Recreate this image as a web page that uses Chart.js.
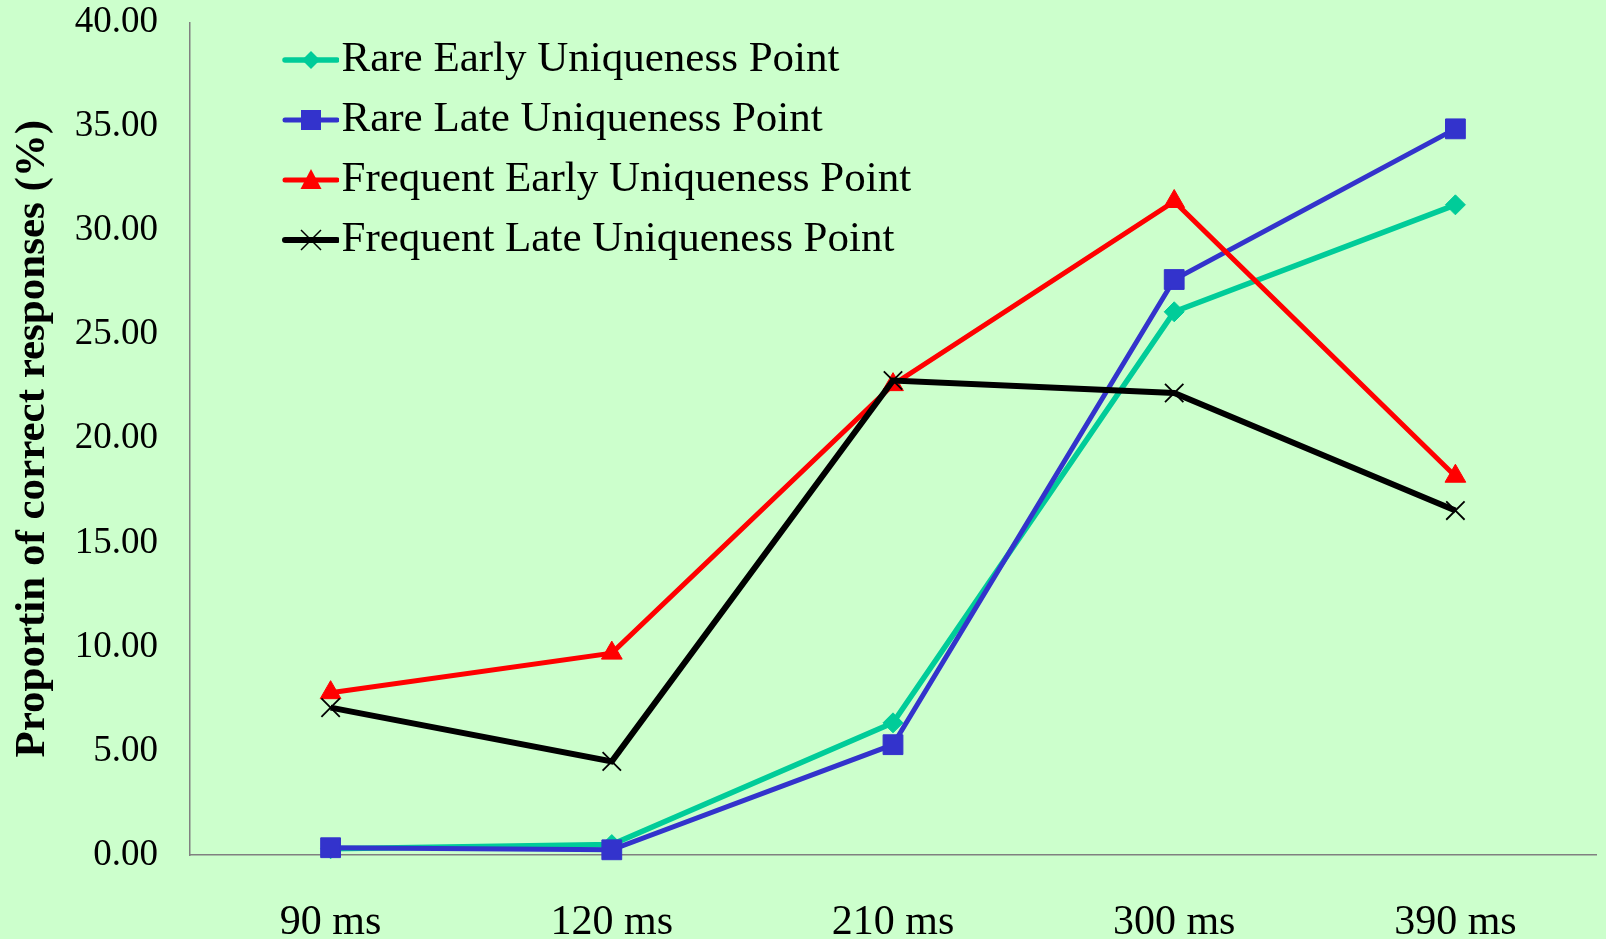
<!DOCTYPE html>
<html>
<head>
<meta charset="utf-8">
<script src="https://cdn.jsdelivr.net/npm/chart.js@4"></script>
<style>
  html, body { margin: 0; padding: 0; background: #CCFFCC; }
  #wrap { width: 1606px; height: 939px; position: relative; }
</style>
</head>
<body>
<div id="wrap"><canvas id="c"></canvas></div>
<script>
const categories = ['90 ms', '120 ms', '210 ms', '300 ms', '390 ms'];
const seriesNames = ['Rare Early Uniqueness Point', 'Rare Late Uniqueness Point', 'Frequent Early Uniqueness Point', 'Frequent Late Uniqueness Point'];
const rareEarly = [0.3, 0.5, 6.35, 26.1, 31.24];
const rareLate = [0.35, 0.25, 5.3, 27.65, 34.89];
const freqEarly = [7.8, 9.7, 22.6, 31.4, 18.2];
const freqLate = [7.08, 4.5, 22.8, 22.2, 16.55];
const yTickValues = [0, 5, 10, 15, 20, 25, 30, 35, 40];

const FONT = "'Liberation Serif', 'Times New Roman', serif";
const colors = ['#00CC99', '#3333CC', '#FF0000', '#000000'];
const styles = ['rectRot', 'rect', 'triangle', 'crossRot'];
const radii = [10, 14, 12, 13];
const widths = [5.5, 5, 5, 6];

function makeLegendIcon(i) {
  const cv = document.createElement('canvas');
  cv.width = 151; cv.height = 26;
  const ctx = cv.getContext('2d');
  const cy = 13, cx = 123;
  ctx.strokeStyle = colors[i];
  ctx.lineWidth = widths[i];
  ctx.lineCap = 'round';
  ctx.beginPath(); ctx.moveTo(97, cy); ctx.lineTo(149, cy); ctx.stroke();
  ctx.fillStyle = colors[i];
  ctx.lineCap = 'butt';
  if (i === 0) {
    ctx.beginPath(); ctx.moveTo(cx, cy - 9); ctx.lineTo(cx + 9, cy); ctx.lineTo(cx, cy + 9); ctx.lineTo(cx - 9, cy); ctx.closePath(); ctx.fill();
  } else if (i === 1) {
    ctx.fillRect(cx - 10, cy - 10, 20, 20);
  } else if (i === 2) {
    ctx.beginPath(); ctx.moveTo(cx, cy - 11); ctx.lineTo(cx + 10.5, cy + 9); ctx.lineTo(cx - 10.5, cy + 9); ctx.closePath(); ctx.fill();
  } else {
    ctx.lineWidth = 1.5;
    ctx.beginPath(); ctx.moveTo(cx - 10, cy - 10); ctx.lineTo(cx + 10, cy + 10); ctx.moveTo(cx + 10, cy - 10); ctx.lineTo(cx - 10, cy + 10); ctx.stroke();
  }
  return cv;
}
const legendIcons = [0, 1, 2, 3].map(makeLegendIcon);

const allData = [rareEarly, rareLate, freqEarly, freqLate];
const datasets = allData.map((d, i) => ({
  label: seriesNames[i],
  data: d,
  borderColor: colors[i],
  backgroundColor: colors[i],
  borderWidth: widths[i],
  pointStyle: styles[i],
  pointRadius: radii[i],
  pointHoverRadius: radii[i],
  pointBackgroundColor: colors[i],
  pointBorderColor: colors[i],
  pointBorderWidth: i === 3 ? 1.8 : 1,
  tension: 0,
  fill: false,
  clip: false,
  order: 4 - i
}));

function zeroPad(s) { s.paddingTop = 0; s.paddingBottom = 0; s.paddingLeft = 0; s.paddingRight = 0; }

new Chart(document.getElementById('c'), {
  type: 'line',
  data: { labels: categories, datasets },
  options: {
    responsive: true,
    maintainAspectRatio: false,
    animation: false,
    events: [],
    layout: { autoPadding: false, padding: { top: 22.5, right: 10, left: 0, bottom: 0 } },
    plugins: {
      tooltip: { enabled: false },
      legend: {
        position: 'chartArea',
        align: 'start',
        title: { display: true, text: '', font: { size: 10 }, padding: { top: 9.5, bottom: 0 } },
        labels: {
          usePointStyle: true,
          pointStyleWidth: 113,
          padding: 17,
          color: '#000',
          font: { family: FONT, size: 43 },
          generateLabels: () => seriesNames.map((n, i) => ({
            text: n,
            pointStyle: legendIcons[i],
            fillStyle: colors[i],
            strokeStyle: colors[i],
            lineWidth: 0,
            hidden: false,
            datasetIndex: i,
            fontColor: '#000'
          }))
        }
      }
    },
    scales: {
      x: {
        type: 'category',
        offset: true,
        grid: { display: false, drawTicks: false },
        border: { display: true, color: '#808080', width: 1.5 },
        ticks: { color: '#000', font: { family: FONT, size: 42 }, padding: 43, maxRotation: 0, autoSkip: false },
        afterFit: (s) => { s.height = 84; zeroPad(s); }
      },
      y: {
        min: 0,
        max: 40,
        afterBuildTicks: (s) => { s.ticks = yTickValues.map(v => ({ value: v })); },
        grid: { display: false, drawTicks: false },
        border: { display: true, color: '#808080', width: 1.5 },
        ticks: { color: '#000', font: { family: FONT, size: 37 }, padding: 32, callback: (v) => Number(v).toFixed(2) },
        title: {
          display: true,
          text: 'Proportin of correct responses (%)',
          color: '#000',
          font: { family: FONT, size: 43, weight: 'bold' },
          padding: { top: 7, bottom: 0 }
        },
        afterFit: (s) => { s.width = 190; zeroPad(s); }
      }
    }
  }
});
</script>
</body>
</html>
